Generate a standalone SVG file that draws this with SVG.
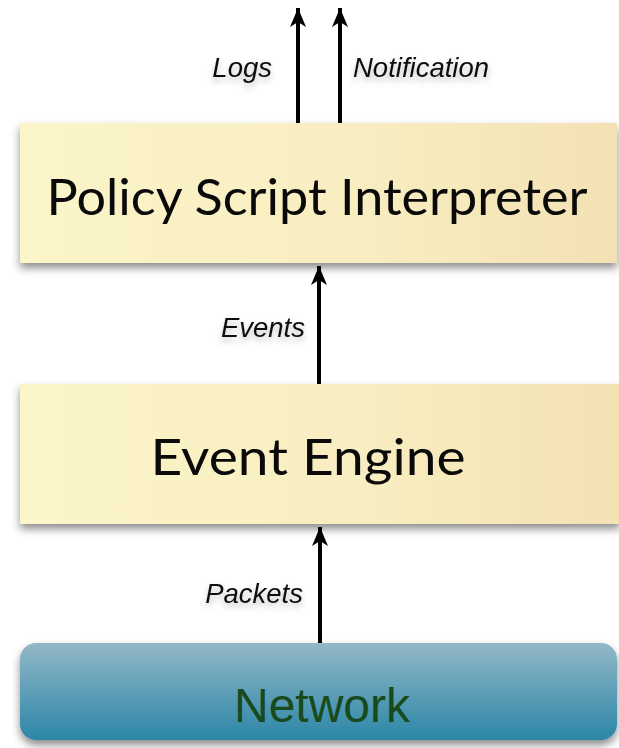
<svg xmlns="http://www.w3.org/2000/svg" width="619" height="748" viewBox="0 0 619 748">
<style>
.lbl{font-family:"Liberation Sans",Arial,sans-serif;font-style:italic;font-size:27.5px;fill:#111;}
.title{font-family:Lato,"Open Sans",sans-serif;font-size:50px;fill:#0a0a0a;text-anchor:middle;}
.net{font-family:"Liberation Sans",Arial,sans-serif;font-size:48px;fill:#184a1c;text-anchor:middle;}
.conn{stroke:#000;stroke-width:4;fill:none;marker-end:url(#ah);}
</style>
<defs>
<linearGradient id="yel" x1="0" y1="0" x2="1" y2="0">
<stop offset="0" stop-color="#fbf5c9"/>
<stop offset="0.6" stop-color="#f8edc0"/>
<stop offset="1" stop-color="#f3e1b4"/>
</linearGradient>
<linearGradient id="blu" x1="0" y1="0" x2="0" y2="1">
<stop offset="0" stop-color="#93b8c7"/>
<stop offset="1" stop-color="#2b86a7"/>
</linearGradient>
<filter id="sh" x="-10%" y="-20%" width="120%" height="150%">
<feDropShadow dx="0" dy="5" stdDeviation="4" flood-color="#000" flood-opacity="0.45"/>
</filter>
<filter id="tsh" x="-20%" y="-50%" width="140%" height="220%">
<feDropShadow dx="0" dy="4" stdDeviation="3" flood-color="#000" flood-opacity="0.25"/>
</filter>
<marker id="ah" markerWidth="20" markerHeight="18" refX="19" refY="9" orient="auto" markerUnits="userSpaceOnUse">
<path d="M0,1 L19,9 L0,17 L5,9 z" fill="#000"/>
</marker>
</defs>
<rect width="619" height="748" fill="#fff"/>
<g id="policy">
<rect x="20" y="123" width="597" height="140" fill="url(#yel)" filter="url(#sh)"/>
<text class="title" x="317" y="215" textLength="541" lengthAdjust="spacingAndGlyphs">Policy Script Interpreter</text>
</g>
<g id="engine">
<rect x="20" y="384" width="600" height="140" fill="url(#yel)" filter="url(#sh)"/>
<text class="title" x="308" y="475" textLength="315" lengthAdjust="spacingAndGlyphs">Event Engine</text>
</g>
<g id="network">
<rect x="20" y="643" width="597" height="97" rx="16" ry="16" fill="url(#blu)" filter="url(#sh)"/>
<text class="net" x="322" y="722">Network</text>
</g>
<g id="connectors">
<line class="conn" x1="298" y1="123" x2="298" y2="8"/>
<line class="conn" x1="340" y1="123" x2="340" y2="8"/>
<line class="conn" x1="319" y1="384" x2="319" y2="266"/>
<line class="conn" x1="320" y1="643" x2="320" y2="527"/>
<text class="lbl" x="272" y="77" text-anchor="end" filter="url(#tsh)">Logs</text>
<text class="lbl" x="353" y="77" filter="url(#tsh)">Notification</text>
<text class="lbl" x="305" y="337" text-anchor="end" filter="url(#tsh)">Events</text>
<text class="lbl" x="303" y="603" text-anchor="end" filter="url(#tsh)">Packets</text>
</g>
</svg>
